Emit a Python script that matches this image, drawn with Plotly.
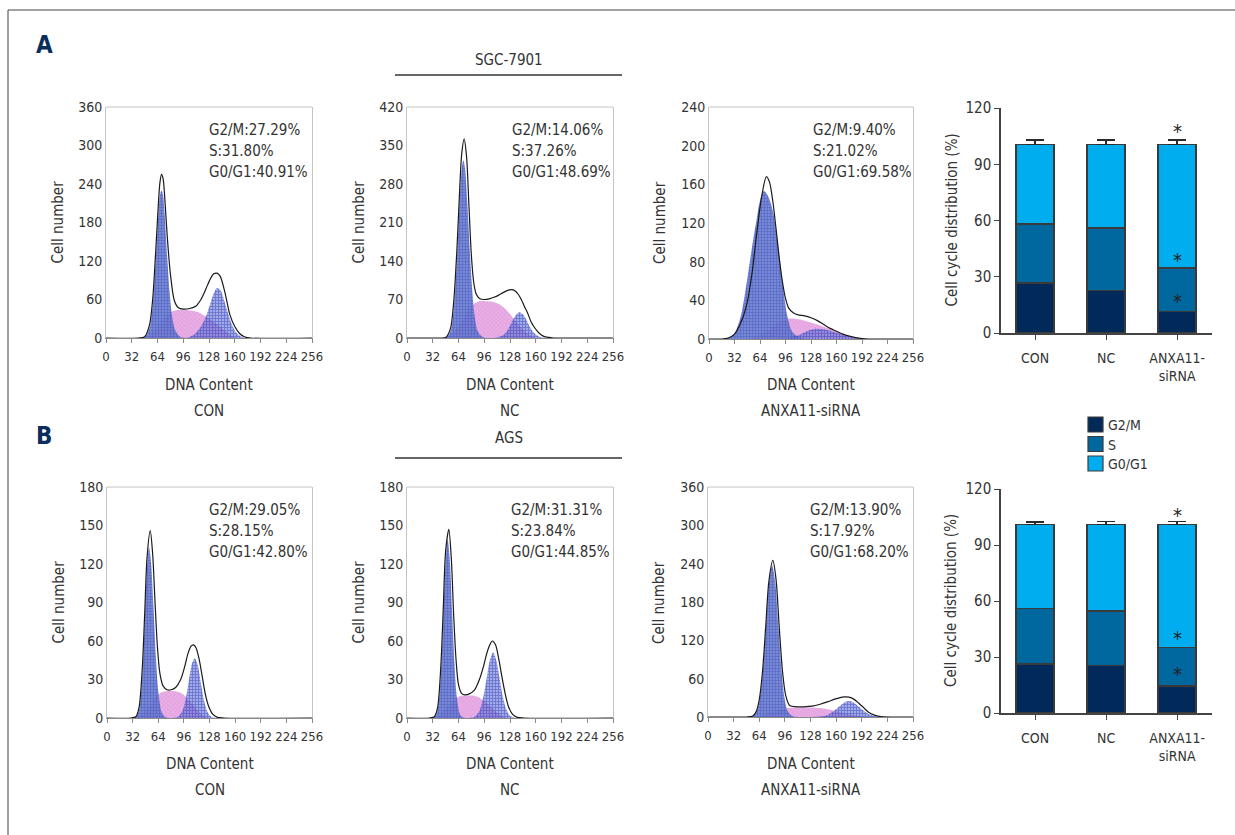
import plotly.graph_objects as go

W, H = 1235, 835
FONT = "Liberation Sans Narrow, DejaVu Sans Condensed, Roboto Condensed, Arial Narrow, Roboto, sans-serif"
TXT = "#333333"

# ---------------- Histogram data (DNA content channel vs cell number) ----------------
# Panel A1 : SGC-7901 CON
A1_G1_X = [40, 48, 54, 58, 62, 65, 67, 69, 71, 73, 76, 79, 82, 86, 92, 100]
A1_G1_Y = [0, 1, 15, 50, 125, 190, 222, 230, 222, 190, 127, 72, 35, 12, 2, 0]
A1_S_X = [50, 56, 62, 68, 74, 80, 86, 95, 105, 115, 122, 130, 138, 146, 154, 162]
A1_S_Y = [0, 6, 14, 23, 32, 40, 43, 44, 43, 40, 35, 29, 22, 13, 5, 0]
A1_G2_X = [100, 110, 118, 124, 130, 134, 138, 142, 146, 150, 156, 162, 168, 176]
A1_G2_Y = [0, 6, 18, 33, 55, 70, 78, 75, 62, 45, 22, 8, 2, 0]
A1_T_X = [0, 40, 48, 54, 58, 62, 65, 67, 69, 71, 73, 76, 80, 85, 90, 96, 104, 112, 118, 122, 126, 130, 134,
          138, 142, 148, 154, 160, 166, 172, 180, 256]
A1_T_Y = [0, 0, 2, 20, 60, 140, 207, 242, 255, 248, 219, 160, 100, 58, 47, 45, 46, 50, 60, 70, 82, 93, 100,
          101, 96, 70, 36, 18, 7, 2, 0, 0]

# Panel A2 : SGC-7901 NC
A2_G1_X = [40, 48, 54, 58, 62, 65, 68, 70, 72, 75, 78, 81, 84, 88, 94, 100]
A2_G1_Y = [0, 1, 12, 50, 140, 233, 307, 323, 310, 245, 160, 88, 40, 12, 2, 0]
A2_S_X = [48, 54, 60, 66, 72, 78, 84, 90, 98, 106, 112, 118, 124, 130, 136, 142, 148, 154, 160]
A2_S_Y = [0, 5, 14, 26, 40, 53, 63, 67, 67, 66, 63, 58, 50, 40, 28, 18, 10, 4, 0]
A2_G2_X = [100, 110, 118, 124, 130, 134, 138, 140, 144, 148, 152, 158, 164, 170, 178]
A2_G2_Y = [0, 0.5, 4, 12, 28, 39, 46, 47, 43, 34, 22, 9, 2.5, 0.5, 0]
A2_T_X = [0, 40, 48, 54, 58, 62, 65, 68, 71, 74, 77, 80, 83, 86, 90, 96, 102, 108, 114, 120, 126, 130, 134,
          138, 142, 146, 150, 154, 158, 164, 170, 176, 182, 256]
A2_T_Y = [0, 0, 1, 17, 65, 160, 255, 335, 362, 330, 240, 150, 100, 80, 72, 70, 71, 74, 78, 83, 87, 88, 86,
          80, 70, 57, 45, 30, 20, 9, 3, 1, 0, 0]

# Panel A3 : SGC-7901 ANXA11-siRNA
A3_G1_X = [16, 24, 32, 40, 48, 54, 60, 64, 69, 74, 80, 86, 92, 98, 104, 112, 120]
A3_G1_Y = [0, 1, 6, 24, 62, 95, 125, 143, 153, 148, 133, 100, 60, 25, 8, 2, 0]
A3_S_X = [48, 60, 72, 84, 92, 100, 108, 116, 124, 132, 140, 150, 160, 170, 180, 190]
A3_S_Y = [0, 3, 8, 15, 19, 21, 21, 20, 18, 16, 14, 11, 8, 5, 2, 0]
A3_G2_X = [96, 104, 112, 120, 128, 136, 144, 152, 160, 168, 176, 184, 192]
A3_G2_Y = [0, 2, 4, 7, 9.5, 10.5, 10, 8.5, 6.5, 4.5, 2.5, 1, 0]
A3_T_X = [0, 16, 24, 32, 40, 48, 54, 60, 66, 72, 76, 80, 84, 88, 92, 96, 100, 106, 112, 120, 128, 136, 144,
          152, 160, 168, 176, 184, 192, 200, 256]
A3_T_Y = [0, 0, 1, 5, 17, 38, 68, 110, 147, 168, 162, 143, 115, 85, 60, 42, 32, 27, 25, 24, 22, 19, 15,
          11, 8, 5, 3, 1.5, 0.5, 0, 0]

# Panel B1 : AGS CON
B1_G1_X = [30, 36, 40, 44, 47, 50, 52.5, 55, 58, 61, 64, 68, 72, 78]
B1_G1_Y = [0, 0.6, 6, 31, 73, 117, 133, 121, 87, 48, 21, 5, 1, 0]
B1_S_X = [38, 44, 50, 56, 62, 68, 76, 84, 90, 96, 100, 108, 116, 124, 128]
B1_S_Y = [0, 3, 7, 12, 17, 20, 21, 21, 20, 18, 15, 10, 4, 0.5, 0]
B1_G2_X = [80, 88, 94, 98, 102, 106, 109.5, 113, 117, 121, 125, 130, 136, 142]
B1_G2_Y = [0, 0.7, 5.3, 14, 28, 42, 46.6, 42, 28, 14, 5.3, 1, 0, 0]
B1_T_X = [0, 30, 36, 40, 44, 47, 50, 54, 57, 60, 63, 66, 70, 75, 80, 86, 92, 97, 101, 105, 108, 111, 115,
          119, 123, 127, 132, 138, 146, 256]
B1_T_Y = [0, 0, 1, 8, 38, 80, 125, 146, 128, 90, 55, 35, 25, 22, 22, 24, 30, 40, 50, 56, 57, 55, 46,
          32, 18, 9, 3, 0.5, 0, 0]

# Panel B2 : AGS NC
B2_G1_X = [28, 34, 38, 42, 45, 48, 50.5, 53, 56, 59, 62, 66, 70, 76]
B2_G1_Y = [0, 0.6, 6, 33, 76, 122, 139, 125, 84, 42, 15.5, 2.6, 0.3, 0]
B2_S_X = [36, 42, 48, 54, 60, 66, 74, 82, 88, 94, 100, 106, 112, 118, 124]
B2_S_Y = [0, 3, 7, 11, 15, 17, 17.5, 17.5, 16.5, 14, 11, 7.5, 4, 1.5, 0]
B2_G2_X = [76, 84, 90, 95, 99, 103, 107, 111, 115, 119, 123, 128, 134, 140]
B2_G2_Y = [0, 0.9, 5.6, 17, 31, 45, 51, 45, 31, 17, 7.3, 1.8, 0.2, 0]
B2_T_X = [0, 28, 34, 38, 42, 45, 48, 52, 55, 58, 61, 64, 68, 72, 78, 84, 90, 95, 99, 103, 106, 110, 114,
          118, 122, 126, 131, 137, 145, 256]
B2_T_Y = [0, 0, 1, 8, 40, 84, 130, 147, 125, 80, 45, 26, 19, 18, 19, 22, 30, 40, 50, 57, 60, 57, 46,
          32, 19, 9, 3, 0.5, 0, 0]

# Panel B3 : AGS ANXA11-siRNA
B3_G1_X = [48, 56, 60, 64, 68, 72, 76, 80, 84, 88, 92, 96, 100, 106, 112]
B3_G1_Y = [0, 1.4, 6.7, 24, 65, 134, 206, 237, 210, 140, 70, 26, 8, 1, 0]
B3_S_X = [60, 70, 80, 90, 100, 110, 120, 130, 140, 150, 160, 170, 180, 190, 200]
B3_S_Y = [0, 3, 7, 11, 14, 15, 15, 15, 14, 12, 9, 6, 3.5, 1.5, 0]
B3_G2_X = [120, 132, 142, 150, 158, 164, 170, 176, 182, 188, 194, 200, 208, 216, 226]
B3_G2_Y = [0, 0.1, 1, 3.7, 10, 16.7, 22.5, 25, 22.5, 16.7, 10, 4.9, 1.4, 0.3, 0]
B3_T_X = [0, 48, 56, 60, 64, 68, 72, 76, 81, 85, 89, 93, 97, 102, 110, 120, 130, 140, 150, 158, 164, 170,
          176, 182, 188, 194, 200, 208, 216, 256]
B3_T_Y = [0, 0, 1.5, 8, 27, 70, 140, 212, 245, 215, 140, 72, 34, 18, 16, 16, 17, 20, 24, 28, 30, 31.5,
          31, 28, 22, 15, 8, 3, 0.5, 0]

# Y-axis maxima / tick steps and phase texts
A_YMAX = [360, 420, 240]
A_YSTEP = [60, 70, 40]
B_YMAX = [180, 180, 360]
B_YSTEP = [30, 30, 60]
A_PHASES = [["G2/M:27.29%", "S:31.80%", "G0/G1:40.91%"],
            ["G2/M:14.06%", "S:37.26%", "G0/G1:48.69%"],
            ["G2/M:9.40%", "S:21.02%", "G0/G1:69.58%"]]
B_PHASES = [["G2/M:29.05%", "S:28.15%", "G0/G1:42.80%"],
            ["G2/M:31.31%", "S:23.84%", "G0/G1:44.85%"],
            ["G2/M:13.90%", "S:17.92%", "G0/G1:68.20%"]]
GROUPS = ["CON", "NC", "ANXA11-siRNA"]
X_TICKS = [0, 32, 64, 96, 128, 160, 192, 224, 256]

# ---------------- Stacked bar data ----------------
CATS = ["CON", "NC", "ANXA11-siRNA"]
CAT_LABELS = ["CON", "NC", "ANXA11-<br>siRNA"]
A_G2M = [26.8, 22.6, 11.6]
A_S = [31.3, 33.4, 23.2]
A_G0G1 = [42.5, 44.6, 65.8]
A_G2M_ERR = [1.3, 4.1, 1.2]
A_S_ERR = [0.9, 1.8, 0.9]
A_G0G1_ERR = [2.3, 2.4, 2.4]
B_G2M = [26.2, 25.5, 14.6]
B_S = [29.7, 29.1, 20.6]
B_G0G1 = [45.0, 46.3, 65.7]
B_G2M_ERR = [1.0, 2.9, 0.3]
B_S_ERR = [0.7, 3.1, 0.7]
B_G0G1_ERR = [1.5, 1.6, 1.6]
A_STARS_Y = [108, 39, 17]
B_STARS_Y = [106, 40, 21]

PHASE_NAMES = ["G2/M", "S", "G0/G1"]
C_G2M = "#012a5b"
C_S = "#01679f"
C_G0G1 = "#00aeef"
PHASE_COLORS = [C_G2M, C_S, C_G0G1]


def px(x):
    return x / W


def py(y):
    return 1 - y / H


def note(text, x, y, size=14, xanchor="center", angle=0, color=TXT):
    return dict(text=text, x=px(x), y=py(y), xref="paper", yref="paper", showarrow=False,
                xanchor=xanchor, yanchor="middle", textangle=angle, font=dict(size=size, color=color))


fig = go.Figure()
layout = dict(width=W, height=H, margin=dict(l=0, r=0, t=0, b=0, autoexpand=False), paper_bgcolor="white",
              plot_bgcolor="rgba(0,0,0,0)", showlegend=False, barmode="stack",
              font=dict(family=FONT, color=TXT, size=14))
annotations = []
shapes = []

hist_panels = [
    (A1_G1_X, A1_G1_Y, A1_S_X, A1_S_Y, A1_G2_X, A1_G2_Y, A1_T_X, A1_T_Y),
    (A2_G1_X, A2_G1_Y, A2_S_X, A2_S_Y, A2_G2_X, A2_G2_Y, A2_T_X, A2_T_Y),
    (A3_G1_X, A3_G1_Y, A3_S_X, A3_S_Y, A3_G2_X, A3_G2_Y, A3_T_X, A3_T_Y),
    (B1_G1_X, B1_G1_Y, B1_S_X, B1_S_Y, B1_G2_X, B1_G2_Y, B1_T_X, B1_T_Y),
    (B2_G1_X, B2_G1_Y, B2_S_X, B2_S_Y, B2_G2_X, B2_G2_Y, B2_T_X, B2_T_Y),
    (B3_G1_X, B3_G1_Y, B3_S_X, B3_S_Y, B3_G2_X, B3_G2_Y, B3_T_X, B3_T_Y),
]
# pixel boxes (left, right, top, bottom)
hist_boxes = [(106, 312, 107, 338), (407, 613, 107, 338), (709, 913, 107, 339),
              (107, 312, 487, 718), (407, 613, 487, 718), (708, 913, 487, 717)]
ymaxes = A_YMAX + B_YMAX
ysteps = A_YSTEP + B_YSTEP
phases = A_PHASES + B_PHASES

for i, (data, box) in enumerate(zip(hist_panels, hist_boxes)):
    n = i + 1
    xa, ya = ("x" if n == 1 else f"x{n}"), ("y" if n == 1 else f"y{n}")
    xk, yk = ("xaxis" if n == 1 else f"xaxis{n}"), ("yaxis" if n == 1 else f"yaxis{n}")
    g1x, g1y, sx, sy, g2x, g2y, tx, ty = data
    common = dict(xaxis=xa, yaxis=ya, mode="lines", showlegend=False, hoverinfo="skip", fill="tozeroy")
    fig.add_trace(go.Scatter(x=sx, y=sy, line=dict(width=0, shape="spline", smoothing=0.8),
                             fillcolor="rgba(222,140,215,0.8)",
                             fillpattern=dict(shape="x", size=3, solidity=0.25, fgcolor="rgba(185,85,185,0.65)",
                                              bgcolor="rgba(228,155,222,0.8)"),
                             **common))
    fig.add_trace(go.Scatter(x=g1x, y=g1y, line=dict(width=0, shape="spline", smoothing=0.8),
                             fillcolor="rgba(70,92,196,0.88)",
                             fillpattern=dict(shape="+", size=3, solidity=0.4, fgcolor="rgba(50,68,175,0.95)",
                                              bgcolor="rgba(100,120,208,0.88)"),
                             **common))
    fig.add_trace(go.Scatter(x=g2x, y=g2y, line=dict(width=0, shape="spline", smoothing=0.8),
                             fillcolor="rgba(70,85,200,0.7)",
                             fillpattern=dict(shape="+", size=3, solidity=0.5, fgcolor="rgba(40,55,180,0.95)",
                                              bgcolor="rgba(100,115,215,0.6)"),
                             **common))
    fig.add_trace(go.Scatter(x=tx, y=ty, xaxis=xa, yaxis=ya, mode="lines", showlegend=False, hoverinfo="skip",
                             line=dict(color="#1a1a1a", width=1.2, shape="spline", smoothing=0.8)))
    l, r, t, b = box
    ymax = ymaxes[i]
    layout[xk] = dict(domain=[px(l), px(r)], range=[0, 256], tickvals=X_TICKS, showgrid=False, zeroline=False,
                      showline=True, linecolor="#8a8a8a", linewidth=1, ticks="outside", ticklen=4,
                      tickcolor="#8a8a8a", tickangle=0, tickfont=dict(size=13, color=TXT), anchor=ya,
                      ticklabelstandoff=2, fixedrange=True, automargin=False)
    layout[yk] = dict(domain=[py(b), py(t)], range=[0, ymax], tickvals=list(range(0, ymax + 1, ysteps[i])),
                      showgrid=False, zeroline=False, showline=True, linecolor="#c4c4c4", linewidth=1,
                      mirror=True, ticks="", tickfont=dict(size=14, color=TXT), anchor=xa, fixedrange=True,
                      automargin=False)
    shapes.append(dict(type="line", xref=f"{xa} domain", yref=f"{ya} domain", x0=0, x1=1, y0=1, y1=1,
                       line=dict(color="#c4c4c4", width=1)))
    cx = (l + r) / 2
    base = 385 if i < 3 else 764
    annotations.append(note("DNA Content", cx, base, size=15))
    annotations.append(note(GROUPS[i % 3], cx, base + 26, size=15))
    annotations.append(note("Cell number", l - 49, (t + b) / 2, size=15, angle=-90))
    tx0 = [207, 510, 811, 207, 509, 808][i]
    ty0 = 130 if i < 3 else 510
    for k, line in enumerate(phases[i]):
        annotations.append(note(line, tx0, ty0 + 21 * k, size=15, xanchor="left"))

# ---------------- stacked bars ----------------
bar_sets = [
    (A_G2M, A_S, A_G0G1, A_G2M_ERR, A_S_ERR, A_G0G1_ERR, A_STARS_Y, (108, 333)),
    (B_G2M, B_S, B_G0G1, B_G2M_ERR, B_S_ERR, B_G0G1_ERR, B_STARS_Y, (489, 713)),
]
for j, (g2m, s, g01, e1, e2, e3, stars, (t, b)) in enumerate(bar_sets):
    n = 7 + j
    xa, ya = f"x{n}", f"y{n}"
    for vals, errs, name, col in zip([g2m, s, g01], [e1, e2, e3], PHASE_NAMES, PHASE_COLORS):
        fig.add_trace(go.Bar(x=CATS, y=vals, name=name, xaxis=xa, yaxis=ya, width=0.535,
                             marker=dict(color=col, line=dict(color="#3a3a3a", width=1.5)),
                             error_y=dict(type="data", symmetric=False, array=errs, arrayminus=[0, 0, 0],
                                          color="#2a2a2a", thickness=1.5, width=9),
                             hoverinfo="skip"))
    layout[f"xaxis{n}"] = dict(domain=[px(1001), px(1212)], range=[-0.48, 2.49], type="category",
                               tickvals=CATS, ticktext=CAT_LABELS, showline=True, linecolor="#444",
                               linewidth=1.5, ticks="outside", ticklen=5, tickcolor="#444", showgrid=False,
                               tickangle=0, tickfont=dict(size=14, color=TXT), anchor=ya, fixedrange=True,
                               ticklabelstandoff=6, automargin=False)
    layout[f"yaxis{n}"] = dict(domain=[py(b), py(t)], range=[0, 120], tickvals=[0, 30, 60, 90, 120],
                               showline=True, linecolor="#444", linewidth=1.5, ticks="outside", ticklen=5,
                               tickcolor="#444", showgrid=False, zeroline=False,
                               tickfont=dict(size=15, color=TXT), anchor=xa, fixedrange=True, automargin=False)
    annotations.append(note("Cell cycle distribution (%)", 951, (t + b) / 2, size=15, angle=-90))
    for sy in stars:
        annotations.append(dict(text="*", x=CATS[2], y=sy, xref=xa, yref=ya, showarrow=False,
                                xanchor="center", yanchor="middle", font=dict(size=20, color="#222")))

# legend drawn as swatches + labels (panel B bar chart)
for k, (name, col) in enumerate(zip(PHASE_NAMES, PHASE_COLORS)):
    top = 417 + 19.5 * k
    shapes.append(dict(type="rect", xref="paper", yref="paper", x0=px(1088), x1=px(1103),
                       y0=py(top + 15), y1=py(top), fillcolor=col, line=dict(color="#3a3a3a", width=1.2)))
    annotations.append(note(name, 1106, top + 8, size=14, xanchor="left"))

# ---------------- figure furniture ----------------
annotations += [
    note("<b>A</b>", 44, 45, size=24, color="#0b2d5c"),
    note("<b>B</b>", 44, 436, size=24, color="#0b2d5c"),
    note("SGC-7901", 509, 60, size=15),
    note("AGS", 509, 438, size=15),
]
shapes += [
    dict(type="line", xref="paper", yref="paper", x0=px(395), x1=px(622), y0=py(75), y1=py(75),
         line=dict(color="#333", width=1.5)),
    dict(type="line", xref="paper", yref="paper", x0=px(395), x1=px(622), y0=py(458), y1=py(458),
         line=dict(color="#333", width=1.5)),
    dict(type="line", xref="paper", yref="paper", x0=px(8), x1=1, y0=py(10), y1=py(10),
         line=dict(color="#444", width=1)),
    dict(type="line", xref="paper", yref="paper", x0=px(8), x1=px(8), y0=py(10), y1=0,
         line=dict(color="#444", width=1)),
]
layout["annotations"] = annotations
layout["shapes"] = shapes
fig.update_layout(**layout)
fig.write_html("out.html", config={"displayModeBar": False},
               post_script="document.body.style.margin='0';document.body.style.padding='0';"
                           "document.documentElement.style.overflow='hidden';"
                           "document.body.style.overflow='hidden';")
